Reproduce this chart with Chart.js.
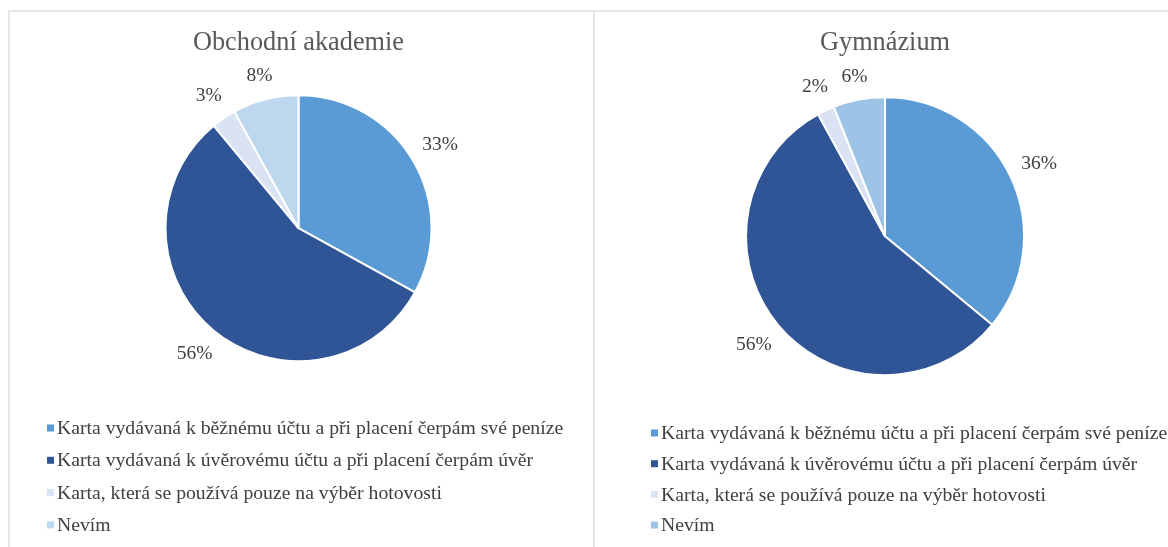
<!DOCTYPE html>
<html>
<head>
<meta charset="utf-8">
<script src="https://cdn.jsdelivr.net/npm/chart.js@4.4.0/dist/chart.umd.min.js"></script>
<style>
  body { margin: 0; background: #fff; }
  #wrap { position: absolute; left: 8px; top: 10px; width: 1170px; height: 537px; }
  .panel { position: absolute; top: 0; height: 535px; border-top: 2px solid #e6e6e6; }
  #p1 { left: 0; width: 583px; border-left: 2px solid #e6e6e6; border-right: 2px solid #e6e6e6; }
  #p2 { left: 587px; width: 573px; }
</style>
</head>
<body>
<div id="wrap">
  <div class="panel" id="p1"><canvas id="c1" width="583" height="535"></canvas></div>
  <div class="panel" id="p2"><canvas id="c2" width="573" height="535"></canvas></div>
</div>
<script>
// data
const labels = [
  'Karta vydávaná k běžnému účtu a při placení čerpám své peníze',
  'Karta vydávaná k úvěrovému účtu a při placení čerpám úvěr',
  'Karta, která se používá pouze na výběr hotovosti',
  'Nevím'
];
const titleOA = 'Obchodní akademie';
const titleGym = 'Gymnázium';
const valuesOA = [33, 56, 3, 8];
const valuesGym = [36, 56, 2, 6];
const colorsOA = ['#5B9BD5', '#2F5597', '#DAE3F3', '#BDD7EE'];
const colorsGym = ['#5B9BD5', '#2F5597', '#DAE3F3', '#9DC3E6'];

const serif = '"Liberation Serif", "Times New Roman", serif';

// percent labels outside of each slice
const outsideLabels = {
  id: 'outsideLabels',
  afterDatasetsDraw(chart) {
    const ctx = chart.ctx;
    const meta = chart.getDatasetMeta(0);
    const data = chart.data.datasets[0].data;
    ctx.save();
    ctx.font = '19.5px ' + serif;
    ctx.fillStyle = '#404040';
    ctx.textAlign = 'center';
    ctx.textBaseline = 'middle';
    meta.data.forEach((arc, i) => {
      const p = arc.getProps(['x', 'y', 'startAngle', 'endAngle', 'outerRadius'], true);
      const mid = (p.startAngle + p.endAngle) / 2;
      const txt = data[i] + '%';
      const w = ctx.measureText(txt).width;
      // keep the text box just off the rim
      const d = p.outerRadius + 11 + Math.abs(Math.cos(mid)) * w / 2 + Math.abs(Math.sin(mid)) * 10;
      ctx.fillText(txt, p.x + Math.cos(mid) * d, p.y + Math.sin(mid) * d);
    });
    ctx.restore();
  }
};

// vertical legend under the pie
const listLegend = {
  id: 'listLegend',
  afterDraw(chart, args, opts) {
    const ctx = chart.ctx;
    const colors = chart.data.datasets[0].backgroundColor;
    ctx.save();
    ctx.font = '19.7px ' + serif;
    ctx.textBaseline = 'middle';
    chart.data.labels.forEach((lab, i) => {
      const y = opts.y + i * opts.step;
      ctx.fillStyle = colors[i];
      ctx.fillRect(opts.x, y - 3.5, 7, 7);
      ctx.fillStyle = '#404040';
      ctx.fillText(lab, opts.x + 10, y + 1);
    });
    ctx.restore();
  }
};

const pieChart = (canva, data, colors, title, radius, pad, legend) => {
  return new Chart(canva, {
    type: 'pie',
    data: {
      labels: labels,
      datasets: [{
        data: data,
        backgroundColor: colors,
        borderColor: '#ffffff',
        borderWidth: 2
      }]
    },
    options: {
      responsive: false,
      animation: false,
      radius: radius,
      layout: { padding: pad },
      plugins: {
        legend: { display: false },
        tooltip: { enabled: false },
        title: {
          display: true,
          text: title,
          color: '#595959',
          font: { family: serif, size: 26.3, weight: 'normal', lineHeight: 1.2 },
          padding: { top: 15.4, bottom: 36.4 }
        },
        listLegend: legend
      }
    },
    plugins: [outsideLabels, listLegend]
  });
};

pieChart(document.getElementById('c1'), valuesOA, colorsOA, titleOA, 133,
  { left: 0, right: 6, top: 0, bottom: 186 },
  { x: 37, y: 416, step: 32.3 });

pieChart(document.getElementById('c2'), valuesGym, colorsGym, titleGym, 139,
  { left: 7, right: 0, top: 0, bottom: 170 },
  { x: 56, y: 421, step: 30.7 });
</script>
</body>
</html>
